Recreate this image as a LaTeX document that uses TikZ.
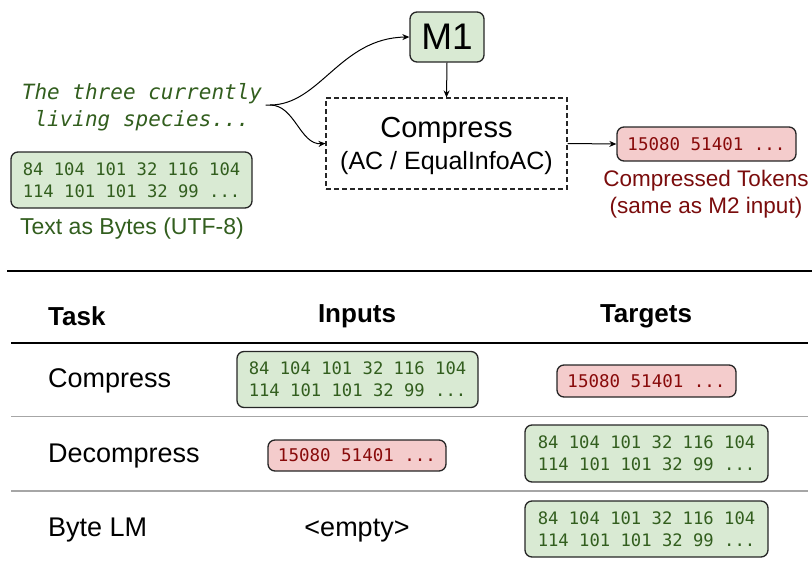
\documentclass[tikz,border=0pt]{standalone}
\usepackage{fontspec}
\setmainfont{Liberation Sans}
\newfontfamily\monof{DejaVu Sans Mono}
\usetikzlibrary{arrows.meta}
\definecolor{gbg}{HTML}{D9EAD3}
\definecolor{gtx}{HTML}{325E1E}
\definecolor{rbg}{HTML}{F4CCCC}
\definecolor{rtx}{HTML}{880A0A}
\definecolor{rlab}{HTML}{7A0C0C}
\definecolor{gline}{HTML}{A6A6A6}
\tikzset{
  bx/.style={draw=black!85, line width=1.3pt, rounded corners=7pt, inner sep=0pt, align=left},
  greenbox/.style={bx, fill=gbg, text=gtx, font=\monof\fontsize{17.2}{22}\selectfont, minimum width=241pt, minimum height=56pt},
  redbox/.style={bx, fill=rbg, text=rtx, font=\monof\fontsize{17.5}{20}\selectfont, minimum width=179pt, minimum height=33pt},
  arr/.style={-{Stealth[length=7pt,width=6pt]}, line width=1pt},
  rowlab/.style={anchor=west, inner sep=0pt, font=\fontsize{27}{30}\selectfont},
  head/.style={font=\bfseries\fontsize{26}{30}\selectfont},
}
\begin{document}
\begin{tikzpicture}[x=1pt,y=-1pt]
\useasboundingbox (0,0) rectangle (812,562);
% top part
\node[bx, fill=gbg, minimum width=74pt, minimum height=50pt, font=\fontsize{37}{40}\selectfont] (m1) at (447,37) {M1};
\node[align=center, text=gtx, font=\monof\itshape\fontsize{21}{27}\selectfont] (txt) at (142,107) {The three currently\\living species...};
\coordinate (split) at (270,105);
\node[greenbox] (bytes) at (131.5,180) {84 104 101 32 116 104\\114 101 101 32 99 ...};
\node[text=gtx, font=\fontsize{23}{26}\selectfont] (byteslab) at (132,229) {Text as Bytes (UTF-8)};
\node[draw=black!85, dash pattern=on 5pt off 3pt, line width=1.1pt, minimum width=241pt, minimum height=91pt, align=center, inner sep=0pt] (comp) at (446.5,143.5) {};
\node[font=\fontsize{29}{32}\selectfont] (comptitle) at (446.5,130) {Compress};
\node[font=\fontsize{25}{28}\selectfont] (compsub) at (446.5,163) {(AC / EqualInfoAC)};
\node[redbox, minimum height=34pt] (ctok) at (706.5,144) {15080 51401 ...};
\node[align=center, text=rlab, font=\fontsize{22.5}{27}\selectfont] (ctoklab) at (706,194) {Compressed Tokens\\(same as M2 input)};
\draw[arr] (txt.east |- split) -- (split) .. controls (320,105) and (340,38) .. (m1.west);
\draw[arr] (split) .. controls (295,105) and (300,145) .. (comp.west);
\draw[arr] (m1.south) -- (comp.north);
\draw[arr] (comp.east) -- (ctok.west);
% separator
\coordinate (sepL) at (7,271);
\coordinate (sepR) at (812,271);
\draw[line width=2.8pt] (sepL) -- (sepR);
% table
\node[head, anchor=west, inner sep=0pt] (htask) at (48,316) {Task};
\node[head] (hin) at (357,316) {Inputs};
\node[head] (htg) at (646,316) {Targets};
\coordinate (l1L) at (11,343);
\coordinate (l1R) at (808,343);
\draw[line width=1.3pt] (l1L) -- (l1R);
\node[rowlab] (r1) at (48,381) {Compress};
\node[greenbox] (r1in) at (357.5,379.5) {84 104 101 32 116 104\\114 101 101 32 99 ...};
\node[redbox, minimum height=32pt] (r1tg) at (646.5,381) {15080 51401 ...};
\coordinate (l2L) at (11,416.5);
\coordinate (l2R) at (808,416.5);
\draw[gline, line width=1.2pt] (l2L) -- (l2R);
\node[rowlab] (r2) at (48,456) {Decompress};
\node[redbox, minimum width=178pt, minimum height=31pt] (r2in) at (357,455.5) {15080 51401 ...};
\node[greenbox, minimum width=243pt, minimum height=57pt] (r2tg) at (646.5,453.5) {84 104 101 32 116 104\\114 101 101 32 99 ...};
\coordinate (l3L) at (11,491);
\coordinate (l3R) at (808,491);
\draw[gline, line width=1.2pt] (l3L) -- (l3R);
\node[rowlab] (r3) at (48,530) {Byte LM};
\node[font=\fontsize{27}{30}\selectfont] (r3in) at (357,531) {<empty>};
\node[greenbox, minimum width=243pt] (r3tg) at (646.5,529) {84 104 101 32 116 104\\114 101 101 32 99 ...};
\end{tikzpicture}
\end{document}
